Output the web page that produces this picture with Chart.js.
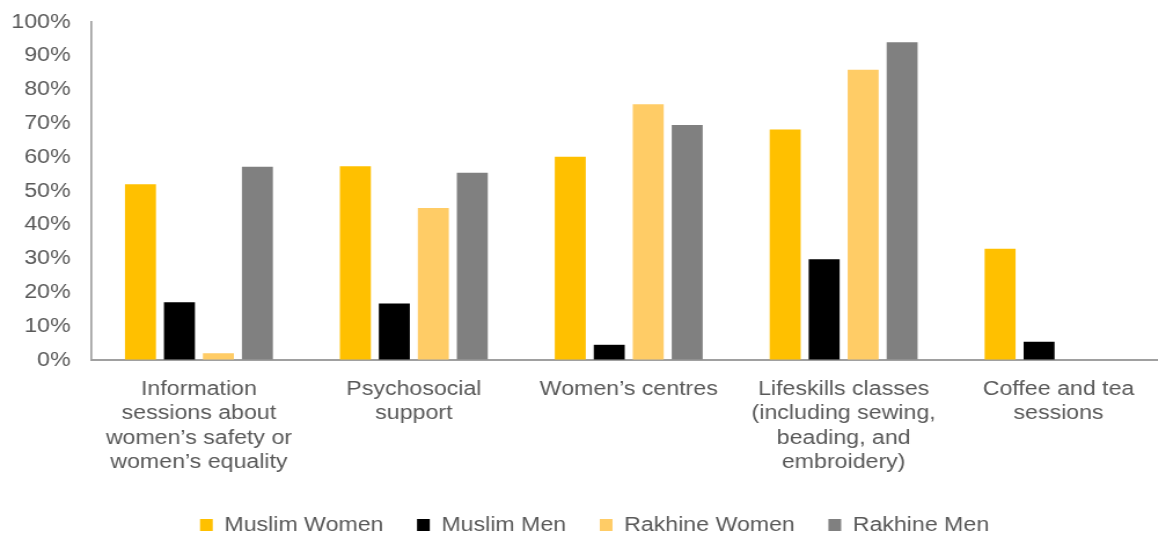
<!DOCTYPE html>
<html>
<head>
<meta charset="utf-8">
<script src="https://cdn.jsdelivr.net/npm/chart.js@4/dist/chart.umd.min.js"></script>
<style>
  html, body { margin: 0; padding: 0; background: #ffffff; overflow: hidden; width: 1158px; height: 534px; }
  /* the canvas is laid out at 1007px wide and shown 1.158x wider, giving the broad lettering;
     the plot runs slightly past the right edge of the page */
  #chart { display: block; width: 1166px !important; height: 534px !important; }
</style>
</head>
<body>
<canvas id="chart" width="1007" height="534"></canvas>
<script>
// Activity categories (multi-line axis labels)
const categories = [
  ['Information', 'sessions about', 'women\u2019s safety or', 'women\u2019s equality'],
  ['Psychosocial', 'support'],
  ['Women\u2019s centres'],
  ['Lifeskills classes', '(including sewing,', 'beading, and', 'embroidery)'],
  ['Coffee and tea', 'sessions']
];

const seriesNames = ['Muslim Women', 'Muslim Men', 'Rakhine Women', 'Rakhine Men'];

// Share of respondents (%) per activity
const muslimWomen  = [52.0, 57.3, 60.1, 68.2, 32.9];
const muslimMen    = [17.1, 16.7, 4.5, 29.8, 5.4];
const rakhineWomen = [2.0, 45.0, 75.7, 85.9, null];
const rakhineMen   = [57.2, 55.4, 69.5, 94.0, null];

// Value axis ticks
const yTickMin = 0;
const yTickMax = 100;
const yTickStep = 10;

const seriesColors = ['#FFC000', '#000000', '#FFCC66', '#808080'];
const seriesValues = [muslimWomen, muslimMen, rakhineWomen, rakhineMen];

const textColor = '#595959';
const axisColor = '#A0A0A0';
const fontFamily = '"Liberation Sans", Arial, sans-serif';

const datasets = seriesNames.map((name, i) => ({
  label: name,
  data: seriesValues[i],
  backgroundColor: seriesColors[i],
  borderWidth: 0,
  categoryPercentage: 0.7255,
  barPercentage: 0.795
}));

// Nudge the legend row a little to the right of the canvas centre
const legendNudge = {
  id: 'legendNudge',
  afterLayout(chart) {
    const lg = chart.legend;
    if (lg) { lg.left += 10; lg.right += 10; }
  }
};

new Chart(document.getElementById('chart'), {
  type: 'bar',
  data: { labels: categories, datasets },
  plugins: [legendNudge],
  options: {
    responsive: false,
    devicePixelRatio: 1,
    animation: false,
    events: [],
    layout: { padding: { top: 22, left: 0, right: 0, bottom: -11 } },
    plugins: {
      tooltip: { enabled: false },
      legend: {
        position: 'bottom',
        labels: {
          boxWidth: 11,
          boxHeight: 12,
          padding: 29,
          color: textColor,
          font: { family: fontFamily, size: 20 }
        }
      }
    },
    scales: {
      x: {
        grid: { display: false, drawTicks: false },
        border: { display: true, color: axisColor, width: 2 },
        ticks: {
          color: textColor,
          font: { family: fontFamily, size: 20, lineHeight: 1.22 },
          padding: 17,
          maxRotation: 0,
          minRotation: 0,
          autoSkip: false
        },
        afterFit(scale) { scale.height = 126; }
      },
      y: {
        min: yTickMin,
        max: yTickMax,
        grid: {
          display: true,
          drawOnChartArea: false,
          drawTicks: true,
          tickLength: 18,
          color: 'rgba(0,0,0,0)'
        },
        border: { display: true, color: axisColor, width: 1.7 },
        ticks: {
          stepSize: yTickStep,
          color: textColor,
          font: { family: fontFamily, size: 20 },
          padding: 0,
          callback: (v) => v + '%'
        },
        afterFit(scale) { scale.width = 79; }
      }
    }
  }
});
</script>
</body>
</html>
